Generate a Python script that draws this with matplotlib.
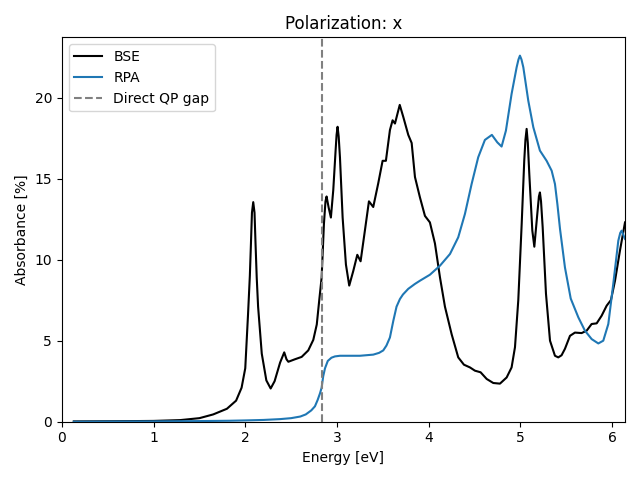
# -*- coding: utf-8 -*-
import matplotlib
matplotlib.use("Agg")
import matplotlib.pyplot as plt

# Spectra (energy in eV, absorbance in %).
bse_energy = [0.13, 0.50, 0.80, 1.00, 1.29, 1.50, 1.65, 1.80, 1.90, 1.96,
              2.00, 2.03, 2.05, 2.062, 2.073, 2.087, 2.101, 2.112, 2.125, 2.14,
              2.18, 2.23, 2.277, 2.32, 2.38, 2.425, 2.45, 2.47, 2.54, 2.615,
              2.687, 2.742, 2.78, 2.807, 2.833, 2.858, 2.875, 2.887, 2.91, 2.934,
              2.96, 2.985, 2.996, 3.007, 3.019, 3.033, 3.062, 3.098, 3.134, 3.178,
              3.222, 3.258, 3.305, 3.349, 3.396, 3.45, 3.498, 3.534, 3.578, 3.607,
              3.633, 3.66, 3.685, 3.724, 3.778, 3.815, 3.851, 3.905, 3.96, 4.014,
              4.069, 4.124, 4.178, 4.251, 4.323, 4.385, 4.451, 4.505, 4.567, 4.633,
              4.705, 4.778, 4.851, 4.905, 4.942, 4.978, 5.015, 5.043, 5.056, 5.069,
              5.082, 5.098, 5.131, 5.153, 5.185, 5.203, 5.214, 5.226, 5.244, 5.28,
              5.324, 5.378, 5.414, 5.45, 5.487, 5.542, 5.596, 5.669, 5.724, 5.778,
              5.833, 5.887, 5.942, 5.989, 6.033, 6.087, 6.142]
bse_abs = [0.02, 0.03, 0.04, 0.05, 0.10, 0.22, 0.45, 0.80, 1.30, 2.10,
           3.30, 6.6, 9.0, 11.0, 12.9, 13.55, 12.9, 11.0, 8.9, 7.1,
           4.2, 2.55, 2.05, 2.5, 3.65, 4.28, 3.85, 3.7, 3.85, 4.0,
           4.4, 5.05, 6.0, 7.5, 8.9, 12.2, 13.6, 13.9, 13.2, 12.6,
           14.3, 16.7, 17.7, 18.2, 17.6, 16.3, 12.6, 9.7, 8.4, 9.3,
           10.3, 9.9, 11.8, 13.6, 13.25, 14.7, 16.1, 16.1, 18.0, 18.6,
           18.4, 19.0, 19.55, 18.8, 17.7, 17.2, 15.1, 13.85, 12.7, 12.3,
           11.0, 8.9, 7.1, 5.4, 3.97, 3.52, 3.35, 3.15, 3.05, 2.64,
           2.39, 2.35, 2.73, 3.35, 4.6, 7.5, 12.2, 16.1, 17.4, 18.07,
           17.2, 15.3, 11.8, 10.8, 12.8, 13.9, 14.15, 13.6, 12.0, 7.9,
           5.0, 4.07, 3.97, 4.1, 4.5, 5.3, 5.5, 5.47, 5.62, 6.03,
           6.07, 6.54, 7.16, 7.51, 8.7, 10.56, 12.3]

rpa_energy = [0.13, 0.50, 1.00, 1.50, 1.83, 2.00, 2.20, 2.378, 2.50, 2.60,
              2.66, 2.72, 2.76, 2.79, 2.815, 2.833, 2.85, 2.87, 2.90, 2.94,
              2.978, 3.033, 3.106, 3.251, 3.396, 3.46, 3.505, 3.54, 3.578, 3.615,
              3.65, 3.687, 3.72, 3.778, 3.85, 3.905, 4.014, 4.124, 4.233, 4.323,
              4.396, 4.469, 4.541, 4.614, 4.69, 4.749, 4.796, 4.843, 4.905, 4.96,
              4.98, 4.996, 5.013, 5.033, 5.087, 5.142, 5.214, 5.287, 5.342, 5.378,
              5.405, 5.433, 5.487, 5.55, 5.633, 5.705, 5.778, 5.851, 5.905, 5.96,
              6.014, 6.069, 6.09, 6.105, 6.142]
rpa_abs = [0.0, 0.01, 0.02, 0.04, 0.06, 0.08, 0.11, 0.16, 0.22, 0.32,
           0.45, 0.7, 0.95, 1.35, 1.75, 2.1, 2.8, 3.3, 3.75, 3.95,
           4.03, 4.07, 4.07, 4.07, 4.14, 4.25, 4.4, 4.7, 5.2, 6.23,
           7.1, 7.57, 7.85, 8.2, 8.5, 8.7, 9.07, 9.63, 10.35, 11.38,
           12.82, 14.67, 16.32, 17.39, 17.7, 17.24, 16.98, 17.96, 20.23, 21.87,
           22.35, 22.59, 22.35, 21.87, 19.81, 18.17, 16.73, 16.1, 15.49, 14.67,
           13.4, 11.9, 9.52, 7.6, 6.44, 5.62, 5.10, 4.83, 5.0, 6.03,
           8.5, 11.17, 11.65, 11.79, 11.28]

qp_gap = 2.835


def plot_spectra() -> None:
    fig, ax = plt.subplots(figsize=(6.4, 4.8), dpi=100)

    ax.plot(bse_energy, bse_abs, color="black", label="BSE")
    ax.plot(rpa_energy, rpa_abs, color="#1f77b4", label="RPA")
    ax.axvline(qp_gap, color="gray", linestyle="--", label="Direct QP gap")

    ax.set_xlim(0, max(bse_energy[-1], rpa_energy[-1]))
    ax.set_ylim(bottom=0)

    ax.set_title("Polarization: x")
    ax.set_xlabel("Energy [eV]")
    ax.set_ylabel("Absorbance [%]")
    ax.legend(loc="upper left")

    fig.tight_layout()
    fig.savefig("out.png")


if __name__ == "__main__":
    plot_spectra()
